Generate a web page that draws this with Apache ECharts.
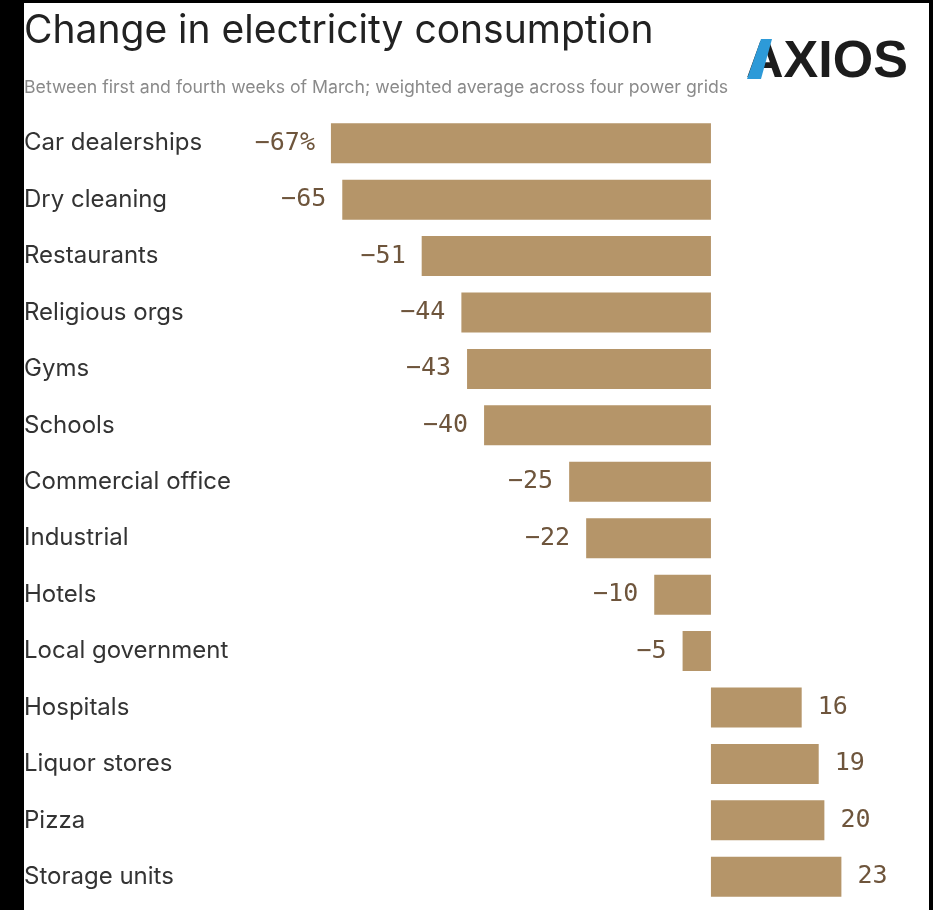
<!DOCTYPE html>
<html>
<head>
<meta charset="utf-8">
<script src="https://cdn.jsdelivr.net/npm/echarts@6/dist/echarts.min.js"></script>
<style>
html,body{margin:0;padding:0;background:#fff;}
#chart{width:933px;height:910px;}
</style>
</head>
<body>
<div id="chart"></div>
<script>
const categories = ["Car dealerships","Dry cleaning","Restaurants","Religious orgs","Gyms","Schools","Commercial office","Industrial","Hotels","Local government","Hospitals","Liquor stores","Pizza","Storage units"];
const values = [-67,-65,-51,-44,-43,-40,-25,-22,-10,-5,16,19,20,23];
const titleText = "Change in electricity consumption";
const subtitleText = "Between first and fourth weeks of March; weighted average across four power grids";
const logoText = "AXIOS";

const BAR = '#b59569';
const LABEL = '#6e553c';

const chart = echarts.init(document.getElementById('chart'), null, {renderer:'canvas'});

const data = values.map((v, i) => ({
  value: v,
  label: {
    position: v < 0 ? 'left' : 'right',
    formatter: (v < 0 ? '\u2212' : '') + Math.abs(v) + (i === 0 ? '%' : '')
  }
}));

chart.setOption({
  backgroundColor: '#ffffff',
  animation: false,
  title: [
    {text: titleText, left: 24, top: 12, padding: 0,
     textStyle: {fontFamily: 'Inter', fontWeight: 400, fontSize: 39, color: '#222'}},
    {text: subtitleText, left: 24, top: 79, padding: 0,
     textStyle: {fontFamily: 'Inter', fontWeight: 400, fontSize: 17.7, color: '#8a8a8a'}}
  ],
  graphic: [
    {type: 'rect', left: 0, top: 0, shape: {width: 24, height: 910}, style: {fill: '#000'}, z: 100},
    {type: 'rect', left: 0, top: 0, shape: {width: 933, height: 3}, style: {fill: '#000'}, z: 100},
    {type: 'rect', left: 929, top: 0, shape: {width: 4, height: 910}, style: {fill: '#000'}, z: 100},
    {type: 'text', left: 746, top: 37, z: 50,
     style: {text: logoText, font: '900 52px "Liberation Sans", Arial, sans-serif', fill: '#1c1c1c'}},
    {type: 'polygon', z: 51,
     shape: {points: [[747, 79], [761, 79], [772, 39], [761, 39]]},
     style: {fill: '#2d9ad8'}}
  ],
  grid: {left: 257.2, width: 623.9, top: 115, height: 790, containLabel: false},
  xAxis: {type: 'value', min: -80, max: 30, show: false},
  yAxis: {
    type: 'category', data: categories, inverse: true,
    axisLine: {show: false, onZero: false}, axisTick: {show: false}, splitLine: {show: false},
    axisLabel: {align: 'left', margin: 233.2, fontFamily: 'Inter', fontSize: 24, color: '#333'}
  },
  series: [{
    type: 'bar', data: data, barWidth: 40,
    itemStyle: {color: BAR},
    label: {show: true, distance: 16, fontFamily: '"DejaVu Sans Mono", monospace', fontSize: 25, color: LABEL}
  }]
});
</script>
</body>
</html>
